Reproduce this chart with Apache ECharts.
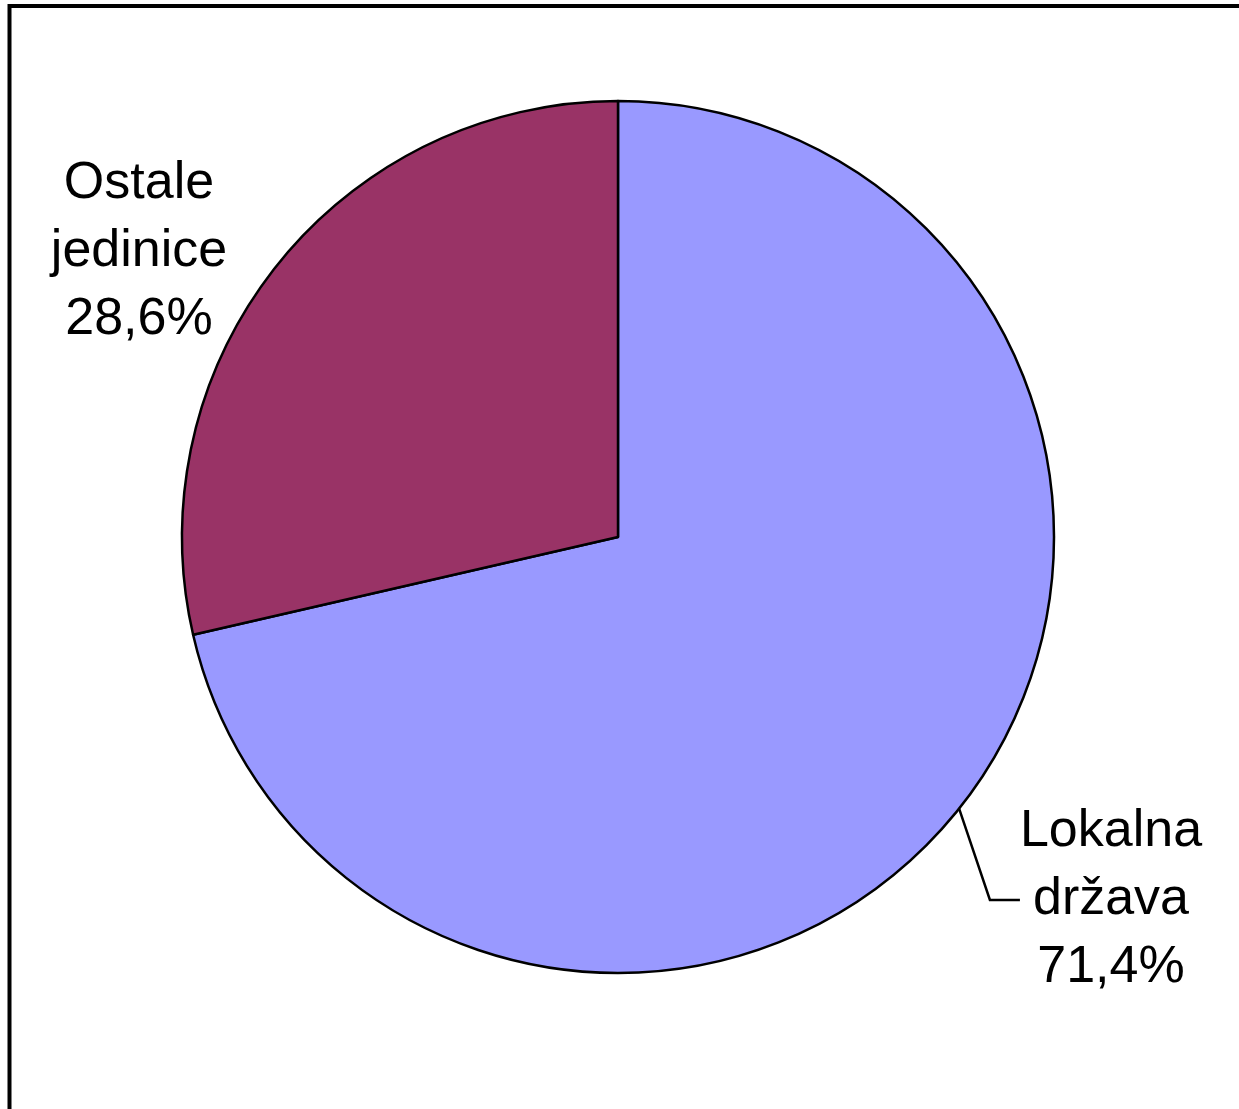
<!DOCTYPE html>
<html><head><meta charset="utf-8">
<script src="https://cdn.jsdelivr.net/npm/echarts@6/dist/echarts.min.js"></script>
<style>html,body{margin:0;padding:0;background:#fff}#c{width:1239px;height:1109px}</style>
</head><body><div id="c"></div>
<script>
const categories = ['Lokalna država', 'Ostale jedinice'];
const labelLines = [['Lokalna', 'država'], ['Ostale', 'jedinice']];
const values = [71.4, 28.6];
const colors = ['#9999FF', '#993366'];

const chart = echarts.init(document.getElementById('c'), null, {renderer: 'canvas'});
const labelPos = [{x: 1111, y: 900}, {x: 139, y: 252}];
chart.setOption({
  backgroundColor: '#fff',
  animation: false,
  graphic: [{
    type: 'rect', z: 100,
    shape: {x: 9.5, y: 6, width: 1400, height: 1300},
    style: {fill: 'none', stroke: '#000', lineWidth: 4}
  }],
  series: [{
    type: 'pie',
    center: [618, 537],
    radius: [0, 436],
    startAngle: 90,
    clockwise: true,
    percentPrecision: 1,
    data: categories.map((c, i) => ({
      name: c, value: values[i],
      itemStyle: {color: colors[i]},
      labelLine: {show: i === 0}
    })),
    itemStyle: {borderColor: '#000', borderWidth: 2.5},
    label: {
      show: true,
      formatter: p => labelLines[p.dataIndex].join('\n') + '\n' + p.percent.toFixed(1).replace('.', ',') + '%',
      fontFamily: 'Liberation Sans, Arial, sans-serif',
      fontSize: 52,
      lineHeight: 68,
      color: '#000',
      align: 'center'
    },
    labelLine: {show: true, smooth: false, lineStyle: {color: '#000', width: 2.5}},
    labelLayout: p => ({x: labelPos[p.dataIndex].x, y: labelPos[p.dataIndex].y, align: 'center', verticalAlign: 'middle'})
  }]
});
</script></body></html>
